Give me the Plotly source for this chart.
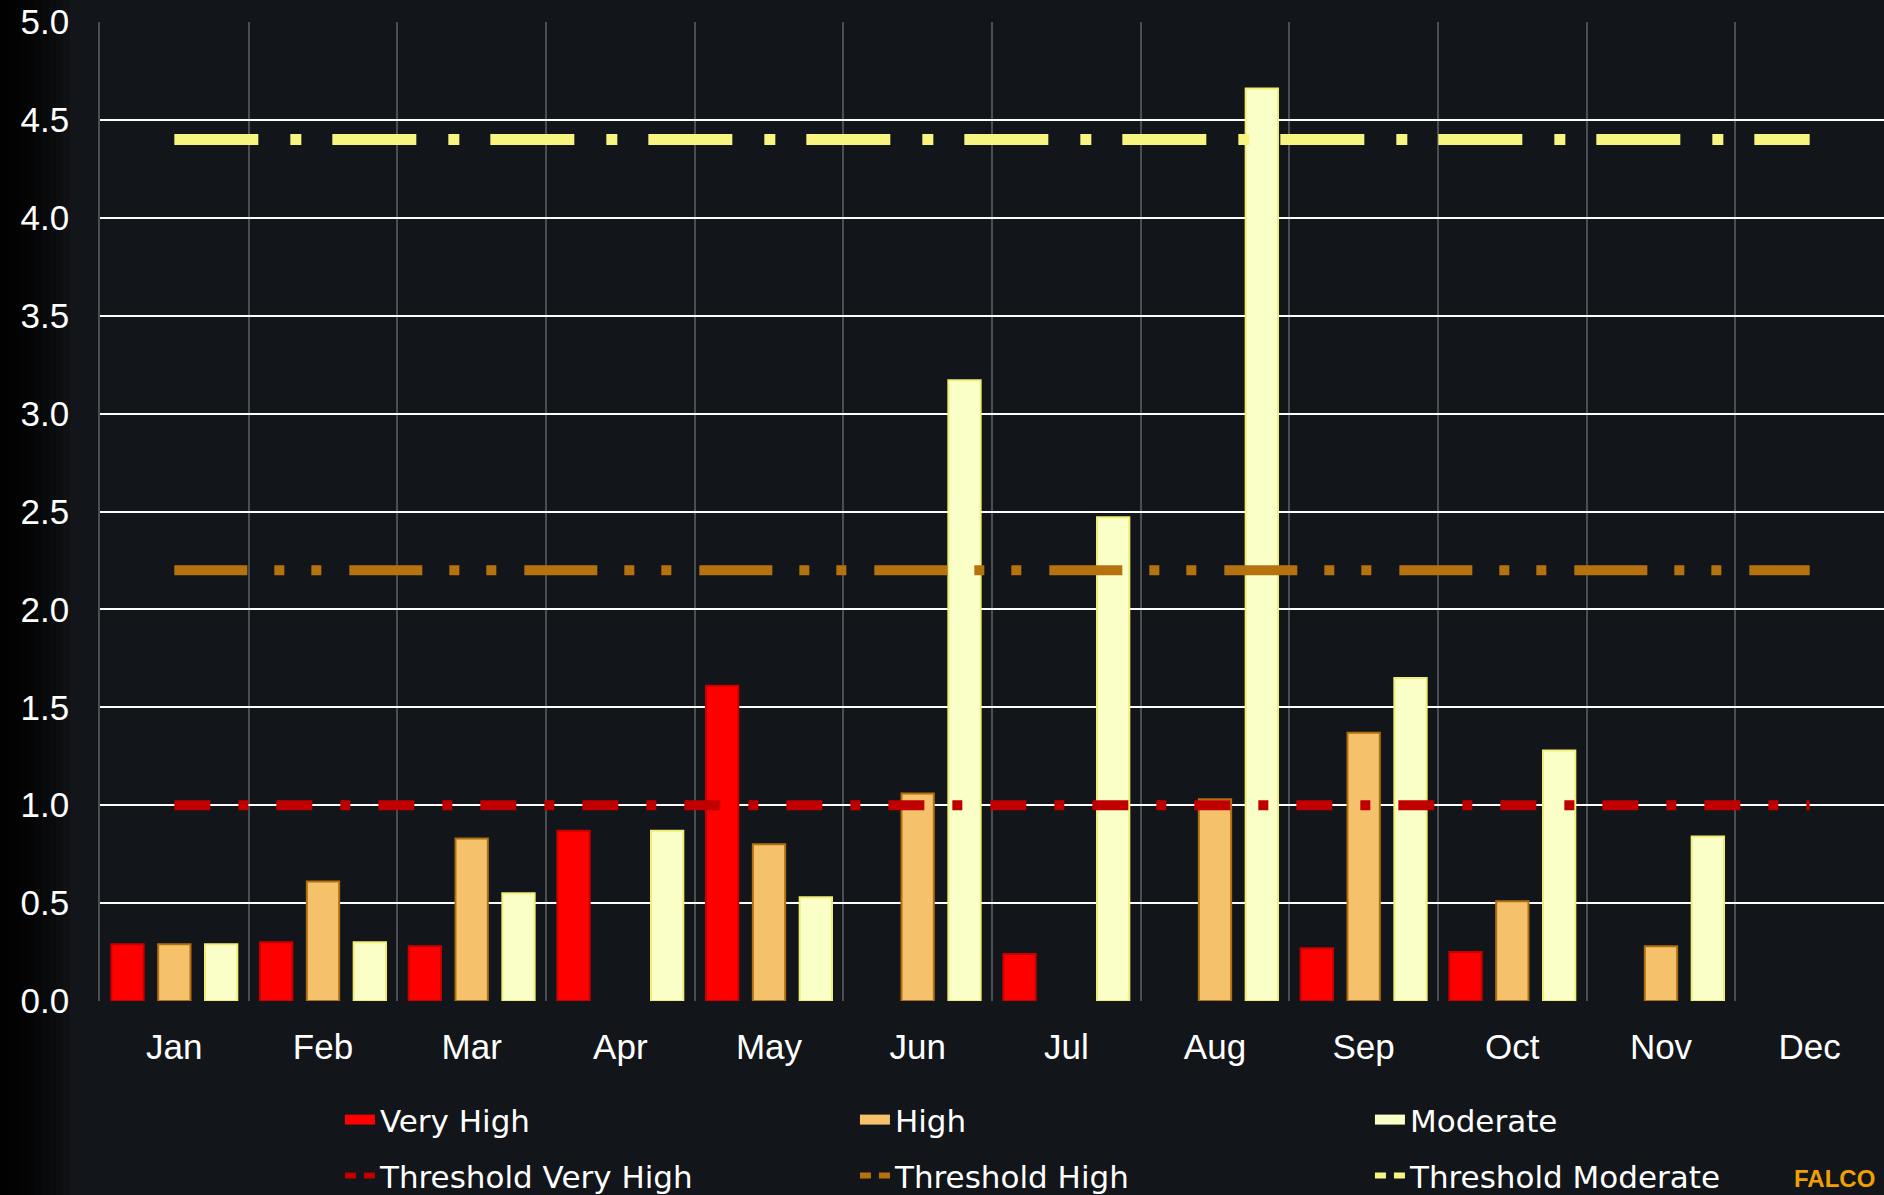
import plotly.graph_objects as go

months = ["Jan", "Feb", "Mar", "Apr", "May", "Jun", "Jul", "Aug", "Sep", "Oct", "Nov", "Dec"]
very_high = [0.29, 0.30, 0.28, 0.87, 1.61, None, 0.24, None, 0.27, 0.25, None, None]
high = [0.29, 0.61, 0.83, None, 0.80, 1.06, None, 1.03, 1.37, 0.51, 0.28, None]
moderate = [0.29, 0.30, 0.55, 0.87, 0.53, 3.17, 2.47, 4.66, 1.65, 1.28, 0.84, None]
thr_very_high = [1.0, 1.0, 1.0, 1.0, 1.0, 1.0, 1.0, 1.0, 1.0, 1.0, 1.0, 1.0]
thr_high = [2.2, 2.2, 2.2, 2.2, 2.2, 2.2, 2.2, 2.2, 2.2, 2.2, 2.2, 2.2]
thr_moderate = [4.4, 4.4, 4.4, 4.4, 4.4, 4.4, 4.4, 4.4, 4.4, 4.4, 4.4, 4.4]
y_ticks = [0.0, 0.5, 1.0, 1.5, 2.0, 2.5, 3.0, 3.5, 4.0, 4.5, 5.0]

BG = "#121519"
FONT = "Liberation Sans, Arial, sans-serif"
LEGEND_FONT = "DejaVu Sans, Liberation Sans, sans-serif"

fig = go.Figure()
bar_specs = [
    ("Very High", very_high, "#FF0000", "#C80000"),
    ("High", high, "#F5C26B", "#B0700F"),
    ("Moderate", moderate, "#FAFFC8", "#EFEF78"),
]
for name, vals, fill, edge in bar_specs:
    fig.add_trace(go.Bar(
        x=months, y=vals, name=name, showlegend=False,
        marker=dict(color=fill, line=dict(color=edge, width=2)),
    ))

line_specs = [
    ("Threshold Very High", thr_very_high, "#C00000", 10, "36px,28px,10px,28px"),
    ("Threshold High", thr_high, "#B5720E", 10, "73px,27px,10px,27px,10px,28px"),
    ("Threshold Moderate", thr_moderate, "#F7F580", 11, "84px,32px,11px,31px"),
]
for name, vals, col, w, dash in line_specs:
    fig.add_trace(go.Scatter(
        x=months, y=vals, name=name, mode="lines", showlegend=False,
        line=dict(color=col, width=w, dash=dash),
    ))

# legend keys (empty traces) styled like the reference swatches
for name, _, fill, _ in bar_specs:
    fig.add_trace(go.Scatter(
        x=[None], y=[None], name=name, mode="lines", legend="legend",
        line=dict(color=fill, width=10),
    ))
for name, _, col, _, _ in line_specs:
    fig.add_trace(go.Scatter(
        x=[None], y=[None], name=name, mode="lines", legend="legend2",
        line=dict(color=col, width=6, dash="11px,8px"),
    ))

# decorative dark fade at the left edge
shapes = []
steps = 10
for i in range(steps):
    x0 = -100 / 1784 + i * 7 / 1784
    shapes.append(dict(
        type="rect", xref="paper", yref="paper",
        x0=-100 / 1784, x1=x0 + 7 / 1784, y0=-0.25, y1=1.05,
        fillcolor="black", opacity=0.16, line=dict(width=0), layer="below",
    ))

legend_common = dict(
    orientation="h", xanchor="left", yanchor="middle",
    font=dict(family=LEGEND_FONT, size=31, color="white"),
    bgcolor="rgba(0,0,0,0)", entrywidth=470, entrywidthmode="pixels",
    itemsizing="trace",
)

fig.update_layout(
    width=1884, height=1195,
    margin=dict(l=100, r=0, t=22, b=194, autoexpand=False),
    paper_bgcolor=BG, plot_bgcolor=BG,
    barmode="group", bargap=0.055, bargroupgap=0.31,
    font=dict(family=FONT, color="white"),
    showlegend=True,
    legend=dict(x=0.1345, y=-0.1215, **legend_common),
    legend2=dict(x=0.1345, y=-0.1787, **legend_common),
    shapes=shapes,
    xaxis=dict(
        type="category", range=[-0.5, 11.5], tickson="boundaries",
        showgrid=True, gridcolor="#4a4d52", gridwidth=1.5,
        ticks="", tickfont=dict(family=FONT, size=35, color="white"),
        ticklabelstandoff=22, showline=False, zeroline=False,
    ),
    yaxis=dict(
        range=[0, 5], tickvals=y_ticks, tickformat=".1f",
        showgrid=True, gridcolor="#ffffff", gridwidth=2,
        ticks="", tickfont=dict(family=FONT, size=35, color="white"),
        ticklabelstandoff=22, showline=True, linecolor="#4a4d52", linewidth=1.5,
        zeroline=False,
    ),
    annotations=[dict(
        text="<b>FALCO</b>", xref="paper", yref="paper",
        x=(1792 - 100) / 1784, y=(1001 - 1194) / 979,
        xanchor="left", yanchor="bottom", showarrow=False,
        font=dict(family=FONT, size=24, color="#F0A000"),
    )],
)

fig.write_html("out.html")
